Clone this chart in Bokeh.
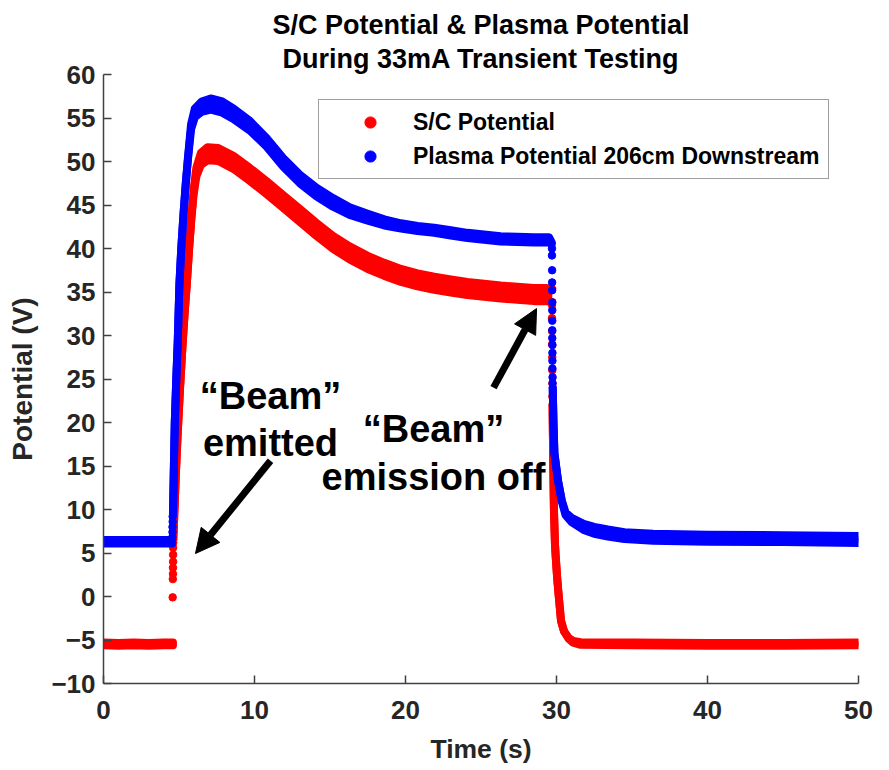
import numpy as np
from bokeh.plotting import figure
from bokeh.models import (Range1d, FixedTicker, Title, Label, Arrow, NormalHead,
                          Legend, LegendItem)
from bokeh.embed import file_html
from bokeh.resources import INLINE

# ---------------- data ----------------
x_ticks = [0, 10, 20, 30, 40, 50]
y_ticks = [-10, -5, 0, 5, 10, 15, 20, 25, 30, 35, 40, 45, 50, 55, 60]

# S/C potential (red): centre of the dotted band and its half-width (V)
sc_pre_t = [0.0, 1.0, 2.0, 3.0, 4.0, 4.6]
sc_pre_v = [-5.45, -5.5, -5.45, -5.5, -5.45, -5.45]
sc_pre_hw = [0.15, 0.15, 0.15, 0.15, 0.15, 0.15]

sc_rise_dots_t = [4.58, 4.59, 4.60, 4.60, 4.61, 4.61, 4.61, 4.62]
sc_rise_dots_v = [-0.1, 2.0, 2.6, 3.3, 4.0, 4.8, 5.6, 6.2]

sc_on_t = [4.62, 4.68, 4.79, 4.92, 5.07, 5.22, 5.37, 5.52, 5.67, 5.82, 5.97, 6.15,
           6.45, 6.90, 7.60, 8.60, 9.70, 10.8, 11.9, 13.0, 14.1, 15.2, 16.3, 17.5,
           18.6, 19.7, 20.8, 21.9, 23.0, 24.1, 25.2, 26.3, 27.4, 28.5, 29.3, 29.72]
sc_on_v = [6.5, 9.0, 14.0, 19.0, 24.0, 28.5, 32.5, 36.0, 40.0, 43.5, 46.5, 48.8,
           50.3, 50.9, 50.8, 49.9, 48.5, 47.0, 45.4, 43.8, 42.2, 40.7, 39.5, 38.4,
           37.6, 36.9, 36.4, 36.0, 35.7, 35.4, 35.2, 35.0, 34.85, 34.7, 34.7, 34.6]
sc_on_hw = [0.0, 0.0, 0.0, 0.0, 0.0, 0.0, 0.0, 0.0, 0.0, 0.1, 0.3, 0.5,
            0.7, 0.75, 0.75, 0.75, 0.75, 0.75, 0.75, 0.75, 0.75, 0.75, 0.75, 0.75,
            0.75, 0.75, 0.75, 0.75, 0.75, 0.75, 0.75, 0.75, 0.75, 0.75, 0.75, 0.75]

sc_fall_dots_t = [29.70, 29.70, 29.71, 29.71, 29.72, 29.72, 29.73, 29.73]
sc_fall_dots_v = [33.5, 32.0, 30.5, 29.0, 27.5, 26.0, 24.5, 23.0]

sc_post_t = [29.74, 29.78, 29.83, 29.90, 29.95, 30.05, 30.15, 30.3, 30.5, 30.8,
             31.1, 31.6, 35.0, 40.0, 45.0, 50.0]
sc_post_v = [22.0, 16.0, 10.0, 6.0, 4.5, 2.0, 0.0, -2.8, -4.0, -4.8,
             -5.2, -5.4, -5.45, -5.5, -5.5, -5.45]
sc_post_hw = [0.0, 0.0, 0.0, 0.0, 0.0, 0.0, 0.0, 0.0, 0.0, 0.05,
              0.1, 0.15, 0.15, 0.15, 0.15, 0.15]

# Plasma potential 206 cm downstream (blue)
pp_pre_t = [0.0, 1.0, 2.0, 3.0, 4.0, 4.55]
pp_pre_v = [6.3, 6.3, 6.3, 6.3, 6.3, 6.3]
pp_pre_hw = [0.2, 0.2, 0.2, 0.2, 0.2, 0.2]

pp_rise_dots_t = [4.56, 4.57, 4.57, 4.58, 4.58]
pp_rise_dots_v = [6.8, 7.4, 8.0, 8.6, 9.2]

pp_on_t = [4.60, 4.65, 4.72, 4.82, 4.92, 5.03, 5.15, 5.30, 5.45, 5.60, 5.80, 6.05,
           6.50, 7.10, 7.80, 8.60, 9.70, 10.8, 11.9, 13.0, 14.1, 15.2, 16.3, 17.5,
           18.6, 19.7, 20.8, 21.9, 23.0, 24.1, 25.2, 26.3, 27.4, 28.5, 29.5, 29.68]
pp_on_v = [9.5, 14.0, 20.0, 25.0, 29.5, 36.0, 40.0, 44.0, 47.5, 50.5, 54.0, 55.6,
           56.3, 56.6, 56.3, 55.5, 54.1, 52.2, 49.9, 48.0, 46.5, 45.3, 44.3, 43.6,
           43.0, 42.6, 42.3, 42.1, 41.8, 41.5, 41.3, 41.1, 41.05, 41.0, 41.0, 40.6]
pp_on_hw = [0.0, 0.0, 0.0, 0.0, 0.0, 0.0, 0.0, 0.0, 0.0, 0.1, 0.3, 0.5,
            0.6, 0.65, 0.65, 0.6, 0.55, 0.5, 0.5, 0.5, 0.5, 0.5, 0.45, 0.4,
            0.35, 0.3, 0.3, 0.3, 0.3, 0.3, 0.3, 0.3, 0.3, 0.3, 0.3, 0.1]

pp_fall_dots_t = [29.70, 29.70, 29.71, 29.71, 29.71, 29.72, 29.72, 29.72, 29.72,
                  29.72, 29.73, 29.73, 29.73, 29.73, 29.74, 29.74]
pp_fall_dots_v = [40.0, 39.2, 37.5, 36.1, 35.2, 33.8, 32.9, 31.7, 30.6, 29.7,
                  28.9, 28.0, 27.1, 26.2, 25.2, 24.5]

pp_post_t = [29.75, 29.80, 29.86, 30.1, 30.35, 30.6, 31.0, 31.8, 32.5, 33.4,
             34.5, 36.4, 40.0, 45.0, 50.0]
pp_post_v = [24.0, 20.0, 16.5, 13.3, 11.0, 9.5, 8.8, 8.0, 7.6, 7.3,
             7.0, 6.8, 6.7, 6.65, 6.55]
pp_post_hw = [0.0, 0.0, 0.0, 0.0, 0.05, 0.15, 0.25, 0.35, 0.4, 0.4,
              0.4, 0.4, 0.4, 0.4, 0.4]

RED = "#ff0000"
BLUE = "#0000ff"
FONT = "Liberation Sans"
AX = "#404040"
DOT = 7.5

# ---------------- figure ----------------
p = figure(width=889, height=770, output_backend="svg", toolbar_location=None,
           x_range=Range1d(0, 50), y_range=Range1d(-10, 60), title=None,
           min_border_left=103, min_border_right=31, min_border_top=74,
           min_border_bottom=87)
p.outline_line_color = None
p.xgrid.visible = False
p.ygrid.visible = False
p.background_fill_color = "white"
p.border_fill_color = "white"


def band(t, v, hw, color):
    t = np.asarray(t, float)
    v = np.asarray(v, float)
    hw = np.asarray(hw, float)
    lo, hi = v - hw, v + hw
    p.varea(x=t, y1=lo, y2=hi, fill_color=color)
    for yy in (lo, hi):
        p.line(t, yy, line_width=8, line_color=color,
               line_cap="round", line_join="round")


def dots(t, v, color):
    return p.scatter(t, v, size=DOT, marker="circle", fill_color=color,
                     line_color=color)


# red first, blue drawn on top
band(sc_pre_t, sc_pre_v, sc_pre_hw, RED)
r_sc = dots(sc_rise_dots_t, sc_rise_dots_v, RED)
band(sc_on_t, sc_on_v, sc_on_hw, RED)
dots(sc_fall_dots_t, sc_fall_dots_v, RED)
band(sc_post_t, sc_post_v, sc_post_hw, RED)

band(pp_pre_t, pp_pre_v, pp_pre_hw, BLUE)
r_pp = dots(pp_rise_dots_t, pp_rise_dots_v, BLUE)
band(pp_on_t, pp_on_v, pp_on_hw, BLUE)
dots(pp_fall_dots_t, pp_fall_dots_v, BLUE)
band(pp_post_t, pp_post_v, pp_post_hw, BLUE)

# ---------------- axes ----------------
p.xaxis.ticker = FixedTicker(ticks=x_ticks)
p.yaxis.ticker = FixedTicker(ticks=y_ticks)
for ax in (p.xaxis[0], p.yaxis[0]):
    ax.axis_line_color = AX
    ax.axis_line_width = 1.5
    ax.major_tick_line_color = AX
    ax.major_tick_line_width = 1.5
    ax.major_tick_in = 8
    ax.major_tick_out = 0
    ax.minor_tick_line_color = None
    ax.major_label_text_font = FONT
    ax.major_label_text_font_style = "bold"
    ax.major_label_text_font_size = "26px"
    ax.major_label_text_color = "#262626"
    ax.axis_label_text_font = FONT
    ax.axis_label_text_font_style = "bold"
    ax.axis_label_text_color = "#262626"
p.xaxis.axis_label = "Time (s)"
p.yaxis.axis_label = "Potential (V)"
p.xaxis.axis_label_text_font_size = "26.5px"
p.yaxis.axis_label_text_font_size = "28px"
p.xaxis.major_label_standoff = 17
p.yaxis.major_label_standoff = 8
p.xaxis.axis_label_standoff = 12
p.yaxis.axis_label_standoff = 10

# ---------------- titles ----------------
p.add_layout(Title(text="During 33mA Transient Testing", align="center",
                   text_font=FONT, text_font_style="bold",
                   text_font_size="27px", text_color="black", standoff=2), "above")
p.add_layout(Title(text="S/C Potential & Plasma Potential", align="center",
                   text_font=FONT, text_font_style="bold",
                   text_font_size="27px", text_color="black", standoff=2), "above")

# ---------------- legend ----------------
legend = Legend(items=[LegendItem(label="S/C Potential", renderers=[r_sc]),
                       LegendItem(label="Plasma Potential 206cm Downstream",
                                  renderers=[r_pp])],
                location=(215, 504), margin=0, padding=8, spacing=6,
                glyph_width=86, glyph_height=28, label_height=28,
                label_standoff=0, label_text_font=FONT,
                label_text_font_style="bold", label_text_font_size="23px",
                label_text_color="black", border_line_color=AX,
                border_line_width=1, background_fill_color="white",
                background_fill_alpha=1.0)
p.add_layout(legend)

# ---------------- annotations ----------------
ann_style = dict(text_font=FONT, text_font_style="bold", text_font_size="38px",
                 text_color="black", text_align="center",
                 text_baseline="alphabetic")
p.add_layout(Label(x=11.06, y=23.1, text="\u201cBeam\u201d", **ann_style))
p.add_layout(Label(x=11.06, y=17.7, text="emitted", **ann_style))
p.add_layout(Label(x=21.85, y=19.3, text="\u201cBeam\u201d", **ann_style))
p.add_layout(Label(x=21.85, y=13.7, text="emission off", **ann_style))

head1 = NormalHead(size=24, fill_color="black", line_color="black")
p.add_layout(Arrow(end=head1, x_start=11.06, y_start=15.6, x_end=6.09, y_end=4.94,
                   line_width=7, line_color="black"))
head2 = NormalHead(size=24, fill_color="black", line_color="black")
p.add_layout(Arrow(end=head2, x_start=25.83, y_start=24.0, x_end=28.68, y_end=33.1,
                   line_width=7, line_color="black"))

open("out.html", "w").write(file_html(p, INLINE))
